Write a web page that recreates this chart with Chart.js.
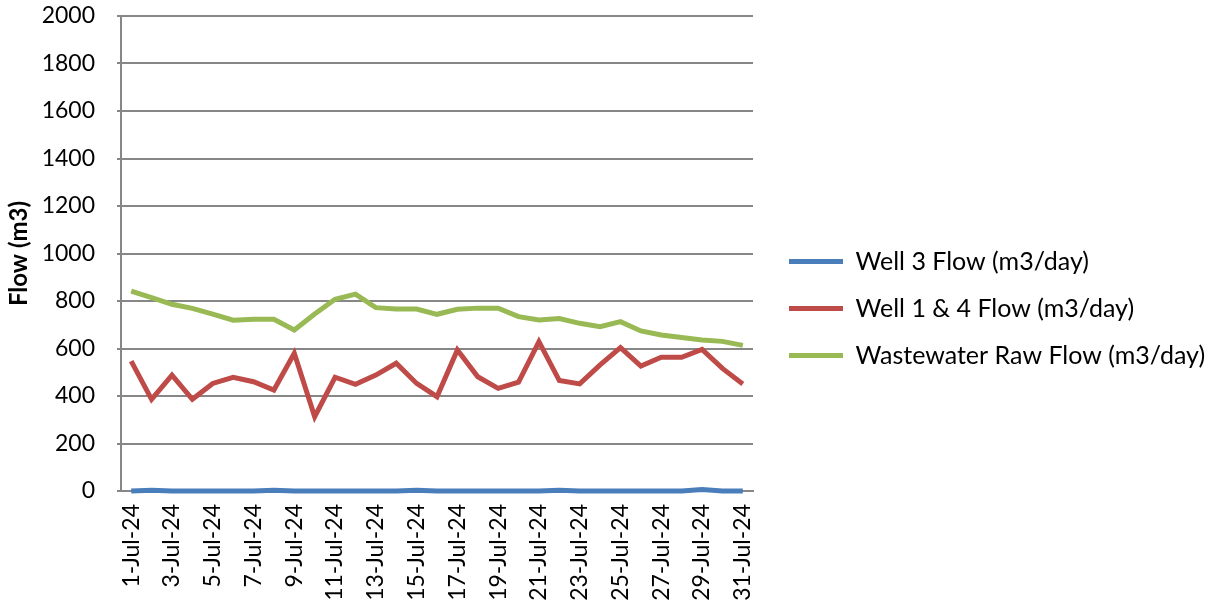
<!DOCTYPE html>
<html>
<head>
    <meta charset="utf-8">
    <title>Well and Wastewater Flow - July 2024</title>
    <script src="https://cdn.jsdelivr.net/npm/chart.js"></script>
    <style>
        body { margin: 0; background: #fff; }
        .box { width: 1212px; height: 611px; }
    </style>
</head>
<body>
    <div class="box">
        <canvas id="flowChart"></canvas>
    </div>
    <script>
        const days = ['1-Jul-24', '2-Jul-24', '3-Jul-24', '4-Jul-24', '5-Jul-24', '6-Jul-24', '7-Jul-24', '8-Jul-24',
            '9-Jul-24', '10-Jul-24', '11-Jul-24', '12-Jul-24', '13-Jul-24', '14-Jul-24', '15-Jul-24', '16-Jul-24',
            '17-Jul-24', '18-Jul-24', '19-Jul-24', '20-Jul-24', '21-Jul-24', '22-Jul-24', '23-Jul-24', '24-Jul-24',
            '25-Jul-24', '26-Jul-24', '27-Jul-24', '28-Jul-24', '29-Jul-24', '30-Jul-24', '31-Jul-24'];

        const well3Flow = [0, 3, 0, 0, 0, 0, 0, 3, 0, 0, 0, 0, 0, 0, 3, 0,
            0, 0, 0, 0, 0, 3, 0, 0, 0, 0, 0, 0, 6, 0, 0];
        const well14Flow = [547, 386, 488, 386, 453, 479, 460, 425, 580, 313, 479, 449, 488, 538, 453, 397,
            594, 481, 432, 458, 629, 465, 451, 531, 604, 526, 563, 563, 596, 516, 451];
        const wastewaterFlow = [842, 814, 786, 769, 745, 719, 723, 723, 678, 745, 807, 829, 772, 766, 766, 744,
            765, 770, 770, 734, 720, 726, 706, 692, 713, 674, 657, 646, 636, 630, 613];

        const seriesNames = ['Well 3 Flow (m3/day)', 'Well 1 & 4 Flow (m3/day)', 'Wastewater Raw Flow (m3/day)'];
        const seriesColors = ['#4A7EBB', '#BE4B48', '#98B954'];

        const font = 'Lato, "Noto Sans", sans-serif';
        const legendWidth = 459;   // space right of the plot
        const legendShift = 14;    // push legend items away from plot

        // widen the legend box past chart.js' half-width limit and nudge it right
        const legendSpace = {
            id: 'legendSpace',
            beforeInit(chart) {
                const fit = chart.legend.fit;
                chart.legend.fit = function () {
                    fit.call(this);
                    this.width = legendWidth;
                };
            },
            afterLayout(chart) {
                chart.legend.left += legendShift;
                chart.legend.right += legendShift;
            }
        };

        const ctx = document.getElementById('flowChart').getContext('2d');
        const flowChart = new Chart(ctx, {
            type: 'line',
            data: {
                labels: days,
                datasets: [well3Flow, well14Flow, wastewaterFlow].map((vals, i) => ({
                    label: seriesNames[i],
                    data: vals,
                    borderColor: seriesColors[i],
                    backgroundColor: seriesColors[i],
                    borderWidth: 5,
                    pointRadius: 0,
                    tension: 0,
                    clip: false
                }))
            },
            options: {
                responsive: true,
                maintainAspectRatio: false,
                animation: false,
                layout: { padding: { top: 6, right: 0, left: 5, bottom: 0 } },
                plugins: {
                    tooltip: { enabled: false },
                    legend: {
                        position: 'right',
                        labels: {
                            usePointStyle: true,
                            pointStyle: 'line',
                            pointStyleWidth: 54,
                            padding: 22,
                            color: '#000',
                            font: { family: font, size: 25 }
                        }
                    }
                },
                scales: {
                    x: {
                        offset: true,
                        grid: { display: false, drawTicks: false },
                        border: { color: '#878787', width: 2 },
                        ticks: {
                            autoSkip: false,
                            minRotation: 90,
                            maxRotation: 90,
                            padding: 13,
                            color: '#000',
                            font: { family: font, size: 23 },
                            callback: function (v, i) { return i % 2 === 0 ? days[i] : ''; }
                        },
                        afterFit: scale => { scale.height = 120; }
                    },
                    y: {
                        min: 0,
                        max: 2000,
                        ticks: {
                            stepSize: 200,
                            padding: 22,
                            color: '#000',
                            font: { family: font, size: 23 },
                            callback: v => String(v)
                        },
                        grid: { color: '#878787', lineWidth: 2, tickLength: 4 },
                        border: { color: '#878787', width: 2 },
                        title: {
                            display: true,
                            text: 'Flow (m3)',
                            color: '#000',
                            font: { family: font, size: 24, weight: 'bold' },
                            padding: { top: 0, bottom: 0 }
                        },
                        afterFit: scale => {
                            scale.width = 116;
                            scale.paddingTop = 16;
                        }
                    }
                }
            },
            plugins: [legendSpace]
        });
    </script>
</body>
</html>
